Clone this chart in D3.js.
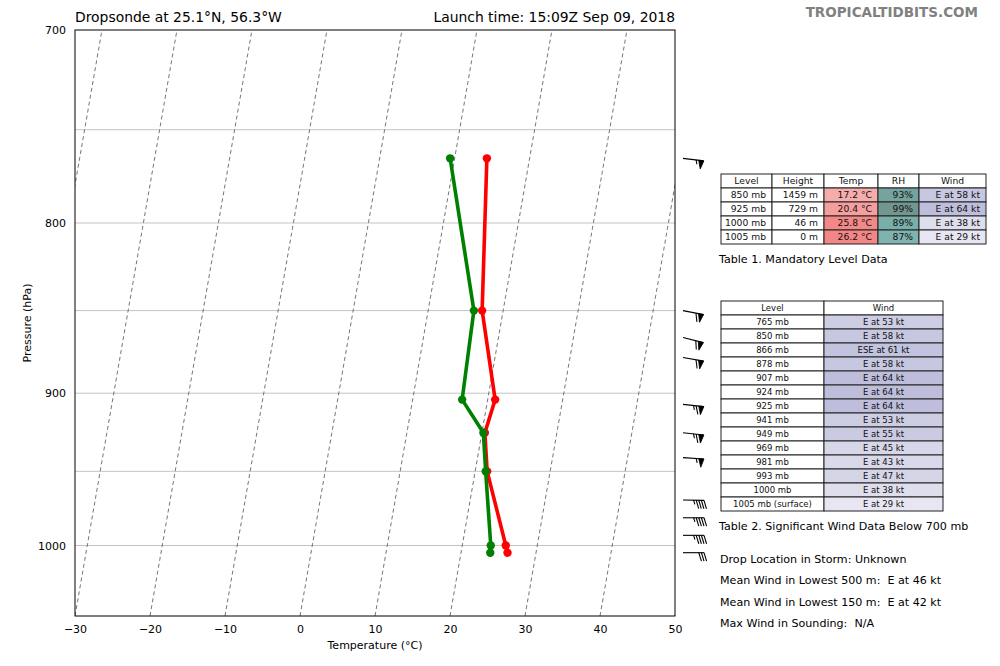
<!DOCTYPE html>
<html>
<head>
<meta charset="utf-8">
<script src="https://cdn.jsdelivr.net/npm/d3@7"></script>
<style>
  body { margin: 0; background: #fff; }
  svg { font-family: "DejaVu Sans", sans-serif; }
  svg text { white-space: pre; }
</style>
</head>
<body>
<div id="chart"></div>
<script>
// sounding profile
const pressures = [765, 850, 904, 925, 950, 1000, 1005];
const temps = [14.3, 17.2, 21.0, 20.4, 21.6, 25.8, 26.2];
const dewpoints = [9.4, 16.1, 16.6, 20.2, 21.4, 23.8, 23.9];

// wind barbs on the right edge
const barbLevels = [765, 850, 866, 878, 907, 925, 941, 969, 981, 993, 1005];
const barbDirs = [97, 101, 104, 100, 96, 96, 94, 91, 90, 90, 90];
const barbSpeeds = [53, 58, 61, 58, 64, 64, 53, 45, 43, 47, 29];

const tempTicks = [-30, -20, -10, 0, 10, 20, 30, 40, 50];
const pressureTicks = [700, 800, 900, 1000];
const gridPressures = [750, 800, 850, 900, 950, 1000];
const isotherms = [-40, -30, -20, -10, 0, 10, 20, 30, 40, 50];

// table 1
const mandLevels = ["850 mb", "925 mb", "1000 mb", "1005 mb"];
const mandHeights = ["1459 m", "729 m", "46 m", "0 m"];
const mandTemps = [17.2, 20.4, 25.8, 26.2];
const mandRH = [93, 99, 89, 87];
const mandDirs = ["E", "E", "E", "E"];
const mandSpeeds = [58, 64, 38, 29];

// table 2
const sigLevels = ["765 mb", "850 mb", "866 mb", "878 mb", "907 mb", "924 mb", "925 mb",
  "941 mb", "949 mb", "969 mb", "981 mb", "993 mb", "1000 mb", "1005 mb (surface)"];
const sigDirs = ["E", "E", "ESE", "E", "E", "E", "E", "E", "E", "E", "E", "E", "E", "E"];
const sigSpeeds = [53, 58, 61, 58, 64, 64, 64, 53, 55, 45, 43, 47, 38, 29];

const infoLines = [
  "Drop Location in Storm: Unknown",
  "Mean Wind in Lowest 500 m:  E at 46 kt",
  "Mean Wind in Lowest 150 m:  E at 42 kt",
  "Max Wind in Sounding:  N/A"
];

const W = 1000, H = 666;
const m = { left: 75, right: 675, top: 30, bottom: 616 };

const svg = d3.select("#chart").append("svg")
  .attr("width", W).attr("height", H);

const x = d3.scaleLinear().domain([-30, 50]).range([m.left, m.right]);
const y = d3.scaleLog().domain([1050, 700]).range([m.bottom, m.top]);
const skew = 0.174;
const sx = (t, p) => x(t) + skew * (m.bottom - y(p));

svg.append("clipPath").attr("id", "plotclip")
  .append("rect").attr("x", m.left).attr("y", m.top)
  .attr("width", m.right - m.left).attr("height", m.bottom - m.top);

const plot = svg.append("g").attr("clip-path", "url(#plotclip)");

// horizontal grid
plot.selectAll("line.grid").data(gridPressures).enter().append("line")
  .attr("x1", m.left).attr("x2", m.right)
  .attr("y1", d => y(d)).attr("y2", d => y(d))
  .attr("stroke", "#c4c4c4").attr("stroke-width", 1);

// skewed isotherms
plot.selectAll("line.iso").data(isotherms).enter().append("line")
  .attr("x1", d => sx(d, 1050)).attr("y1", y(1050))
  .attr("x2", d => sx(d, 700)).attr("y2", y(700))
  .attr("stroke", "#666").attr("stroke-width", 0.9)
  .attr("stroke-dasharray", "4,3");

const tLine = d3.line().x(d => sx(d[0], d[1])).y(d => y(d[1]));

function profile(vals, color) {
  const pts = vals.map((v, i) => [v, pressures[i]]);
  plot.append("path").datum(pts)
    .attr("d", tLine).attr("fill", "none")
    .attr("stroke", color).attr("stroke-width", 3.6)
    .attr("stroke-linejoin", "round");
  plot.selectAll(null).data(pts).enter().append("circle")
    .attr("cx", d => sx(d[0], d[1])).attr("cy", d => y(d[1]))
    .attr("r", 4.2).attr("fill", color);
}
profile(temps, "#ff0000");
profile(dewpoints, "#008000");

// frame
svg.append("rect").attr("x", m.left).attr("y", m.top)
  .attr("width", m.right - m.left).attr("height", m.bottom - m.top)
  .attr("fill", "none").attr("stroke", "#000").attr("stroke-width", 1);

// axes
const xAxis = svg.append("g").attr("transform", `translate(0,${m.bottom})`)
  .call(d3.axisBottom(x).tickValues(tempTicks).tickSize(0).tickPadding(9));
const yAxis = svg.append("g").attr("transform", `translate(${m.left},0)`)
  .call(d3.axisLeft(y).tickValues(pressureTicks).tickFormat(d3.format("d")).tickSize(0).tickPadding(9));
[xAxis, yAxis].forEach(a => {
  a.select(".domain").remove();
  a.selectAll("text").attr("font-size", 11).attr("fill", "#000")
    .attr("font-family", "DejaVu Sans");
});

svg.append("text").attr("x", (m.left + m.right) / 2).attr("y", 649)
  .attr("text-anchor", "middle").attr("font-size", 11).text("Temperature (°C)");
svg.append("text").attr("transform", `translate(31,${(m.top + m.bottom) / 2}) rotate(-90)`)
  .attr("text-anchor", "middle").attr("font-size", 11).text("Pressure (hPa)");

// titles
svg.append("text").attr("x", m.left).attr("y", 22).attr("font-size", 13.9)
  .text("Dropsonde at 25.1°N, 56.3°W");
svg.append("text").attr("x", m.right).attr("y", 22).attr("font-size", 13.9)
  .attr("text-anchor", "end").text("Launch time: 15:09Z Sep 09, 2018");
svg.append("text").attr("x", 978).attr("y", 17).attr("font-size", 13.5)
  .attr("font-weight", "bold").attr("fill", "#808080").attr("text-anchor", "end")
  .text("TROPICALTIDBITS.COM");

// wind barbs
function barb(g, ox, oy, dir, spd) {
  const L = 21, FH = 8.4, FW = 5.2, SP = 2.6;
  const r = dir * Math.PI / 180;
  const u = [Math.sin(r), -Math.cos(r)];
  const n = [-u[1], u[0]];
  const pt = (a, b) => [ox + u[0] * a + n[0] * b, oy + u[1] * a + n[1] * b];
  let s = Math.round(spd / 5) * 5;
  const flags = Math.floor(s / 50); s -= flags * 50;
  const full = Math.floor(s / 10); s -= full * 10;
  const half = s >= 5 ? 1 : 0;
  const line = d3.line();
  g.append("path").attr("d", line([pt(0, 0), pt(L, 0)]))
    .attr("stroke", "#000").attr("stroke-width", 1.1).attr("fill", "none");
  let off = L;
  for (let i = 0; i < flags; i++) {
    g.append("path").attr("d", line([pt(off, 0), pt(off - FW / 2, FH), pt(off - FW, 0)]) + "Z")
      .attr("fill", "#000").attr("stroke", "#000").attr("stroke-width", 0.8);
    off -= FW + SP;
  }
  for (let i = 0; i < full; i++) {
    g.append("path").attr("d", line([pt(off, 0), pt(off + FW / 2, FH)]))
      .attr("stroke", "#000").attr("stroke-width", 1.1).attr("fill", "none");
    off -= SP;
  }
  if (half) {
    g.append("path").attr("d", line([pt(off, 0), pt(off + FW / 4, FH / 2)]))
      .attr("stroke", "#000").attr("stroke-width", 1.1).attr("fill", "none");
  }
}
const barbG = svg.append("g");
barbLevels.forEach((p, i) => barb(barbG, 683, y(p), barbDirs[i], barbSpeeds[i]));

// colour scales for tables
const tempColor = d3.scaleLinear().domain([0, 40]).range(["#fff4f4", "#ec4c4c"]);
const rhColor = rh => d3.interpolateRgb("#ffffff", d3.interpolateBrBG(rh / 100))(0.55);
const windColor = d3.scaleSequential(d3.interpolatePurples).domain([0, 175]);

function drawTable(g, colX, rowY, header, rows, fills, fontSize, align) {
  const cells = [];
  header.forEach((h, c) => cells.push({ r: 0, c, text: h, fill: "#fff", anchor: "middle" }));
  rows.forEach((row, r) => row.forEach((t, c) => cells.push({
    r: r + 1, c, text: t, fill: fills[r][c], anchor: align
  })));
  const cg = g.selectAll(null).data(cells).enter().append("g");
  cg.append("rect")
    .attr("x", d => colX[d.c]).attr("y", d => rowY(d.r))
    .attr("width", d => colX[d.c + 1] - colX[d.c]).attr("height", d => rowY(d.r + 1) - rowY(d.r))
    .attr("fill", d => d.fill).attr("stroke", "#222").attr("stroke-width", 1);
  cg.append("text")
    .attr("x", d => d.anchor === "end" ? colX[d.c + 1] - 6 : (colX[d.c] + colX[d.c + 1]) / 2)
    .attr("y", d => (rowY(d.r) + rowY(d.r + 1)) / 2)
    .attr("dy", "0.36em").attr("text-anchor", d => d.anchor)
    .attr("font-size", fontSize).attr("fill", "#111").text(d => d.text);
}

// Table 1
const t1Rows = mandLevels.map((l, i) => [l, mandHeights[i], mandTemps[i].toFixed(1) + " °C",
  mandRH[i] + "%", mandDirs[i] + " at " + mandSpeeds[i] + " kt"]);
const t1Fills = mandLevels.map((l, i) => ["#fff", "#fff", tempColor(mandTemps[i]),
  rhColor(mandRH[i]), windColor(mandSpeeds[i])]);
const t1Row = d3.scaleLinear().domain([0, 5]).range([174, 244]);
drawTable(svg.append("g"), [721, 772, 824, 878, 919, 986], t1Row,
  ["Level", "Height", "Temp", "RH", "Wind"], t1Rows, t1Fills, 9.2, "end");
svg.append("text").attr("x", 719).attr("y", 263).attr("font-size", 11.1)
  .text("Table 1. Mandatory Level Data");

// Table 2
const t2Rows = sigLevels.map((l, i) => [l, sigDirs[i] + " at " + sigSpeeds[i] + " kt"]);
const t2Fills = sigLevels.map((l, i) => ["#fff", windColor(sigSpeeds[i])]);
const t2Row = d3.scaleLinear().domain([0, 15]).range([301, 511]);
drawTable(svg.append("g"), [721, 824, 943], t2Row,
  ["Level", "Wind"], t2Rows, t2Fills, 8.5, "middle");
svg.append("text").attr("x", 719).attr("y", 530).attr("font-size", 11.1)
  .text("Table 2. Significant Wind Data Below 700 mb");

svg.selectAll("text.info").data(infoLines).enter().append("text")
  .attr("x", 720).attr("y", (d, i) => 563 + i * 21.3)
  .attr("font-size", 11.1).text(d => d);
</script>
</body>
</html>
